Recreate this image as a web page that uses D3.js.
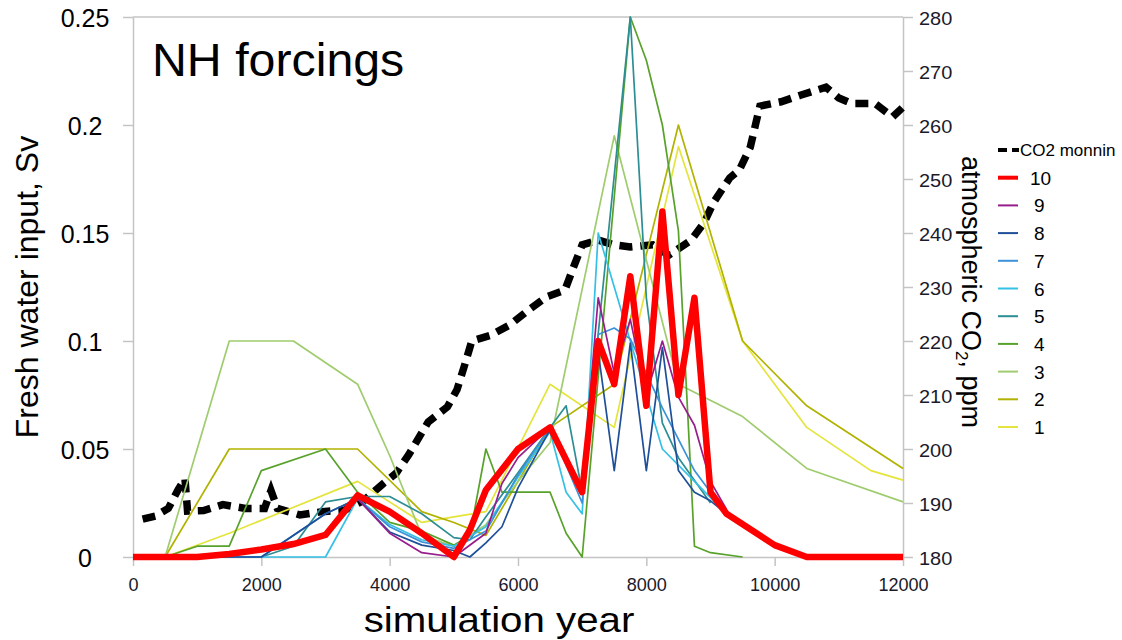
<!DOCTYPE html>
<html lang="en">
<head>
<meta charset="UTF-8">
<title>NH forcings</title>
<script src="https://d3js.org/d3.v7.min.js"></script>
<style>
    html, body {
        margin: 0;
        background: #fff;
    }
    svg text {
        font-family: "Liberation Sans", Arial, sans-serif;
    }
</style>
</head>
<body>
<div id="vis"></div>
<script>

    // ---- data ----
    var yearTicks = [0, 2000, 4000, 6000, 8000, 10000, 12000];
    var svTicks = [0, 0.05, 0.1, 0.15, 0.2, 0.25];
    var svTickLabels = ["0", "0.05", "0.1", "0.15", "0.2", "0.25"];
    var ppmTicks = [180, 190, 200, 210, 220, 230, 240, 250, 260, 270, 280];

    // CO2 (Monnin), right axis
    var co2Years  = [150, 350, 550, 700, 810, 850, 1100, 1400, 1750, 2050, 2150, 2250, 2600, 2950, 3300, 3600, 3900, 4100, 4300, 4600, 4900, 5050, 5170, 5280, 5560, 5875, 6160, 6450, 6730, 6860, 7000, 7250, 7500, 7750, 8100, 8350, 8700, 8900, 9050, 9300, 9450, 9620, 9700, 9770, 10100, 10400, 10800, 11000, 11200, 11560, 11840, 12000];
    var co2Values = [187, 187.6, 189, 192.4, 194.5, 188.5, 188.6, 189.7, 189, 189, 192.3, 189, 187.8, 188.4, 188.7, 190.5, 193.6, 195.5, 199, 205, 207.8, 211, 215.6, 220, 221, 223, 225.7, 228.2, 229.4, 233.5, 237.8, 238.7, 237.8, 237.4, 237.8, 235.9, 238.7, 241.9, 245.7, 250.2, 251.7, 255.9, 260, 263.5, 264.3, 265.5, 267, 265, 264, 264, 261.5, 263.3];

    // fresh water runs, [year, Sv]
    var run1 = [[0, 0], [500, 0], [1500, 0.011], [3500, 0.035], [4500, 0.016], [5000, 0.0186], [5500, 0.021], [6500, 0.08], [7500, 0.06], [8500, 0.19], [9500, 0.1], [10500, 0.06], [11500, 0.04], [12000, 0.0356]];
    var run2 = [[0, 0], [500, 0], [1500, 0.05], [3500, 0.05], [4500, 0.021], [5000, 0.016], [5500, 0.01], [6500, 0.06], [7500, 0.08], [8500, 0.2], [9500, 0.1], [10500, 0.07], [12000, 0.041]];
    var run3 = [[0, 0], [500, 0], [1500, 0.1], [2500, 0.1], [3500, 0.08], [4000, 0.047], [4500, 0.01], [5000, 0.005], [5500, 0.015], [6000, 0.035], [6500, 0.053], [7500, 0.195], [8500, 0.08], [9500, 0.065], [10500, 0.041], [12000, 0.0255]];
    var run4 = [[0, 0], [500, 0], [1000, 0.005], [1500, 0.005], [2000, 0.04], [3000, 0.05], [3500, 0.03], [4000, 0.016], [4500, 0.012], [5000, 0.0055], [5250, 0.01], [5500, 0.05], [5750, 0.03], [6500, 0.03], [6750, 0.011], [7000, 0], [7750, 0.25], [8000, 0.23], [8250, 0.2], [8500, 0.151], [8750, 0.005], [9000, 0.002], [9500, 0]];
    var run5 = [[0, 0], [500, 0], [2000, 0], [2500, 0.005], [3000, 0.0255], [3500, 0.028], [4000, 0.028], [4500, 0.02], [5000, 0.009], [5250, 0.008], [5500, 0.0186], [6000, 0.039], [6500, 0.06], [6750, 0.07], [7000, 0.03], [7750, 0.25], [8000, 0.12], [8250, 0.062], [8500, 0.046], [9000, 0.025]];
    var run6 = [[0, 0], [500, 0], [3000, 0], [3500, 0.027], [4000, 0.015], [4500, 0.008], [5000, 0.005], [5500, 0.014], [6000, 0.037], [6500, 0.058], [6750, 0.03], [7000, 0.02], [7250, 0.15], [7750, 0.1], [8250, 0.05], [8750, 0.035], [9250, 0.02]];
    var run7 = [[0, 0], [2000, 0], [3000, 0.02], [3500, 0.027], [4000, 0.014], [4500, 0.007], [5000, 0.004], [5500, 0.012], [6000, 0.038], [6500, 0.06], [7000, 0.025], [7250, 0.103], [7500, 0.106], [7750, 0.101], [8250, 0.069], [8750, 0.04], [9250, 0.02]];
    var run8 = [[0, 0], [2000, 0], [3000, 0.02], [3500, 0.027], [4000, 0.0116], [4500, 0.0055], [5000, 0.003], [5250, 0], [5500, 0.0065], [5750, 0.014], [6000, 0.032], [6500, 0.059], [7000, 0.03], [7250, 0.095], [7500, 0.04], [7750, 0.099], [8000, 0.04], [8250, 0.097], [8500, 0.04], [8750, 0.03], [9000, 0.026], [9250, 0.02]];
    var run9 = [[0, 0], [1000, 0], [1500, 0.0014], [2000, 0.0035], [2500, 0.006], [3000, 0.0102], [3500, 0.027], [4000, 0.011], [4500, 0.002], [5000, 0], [5500, 0.011], [5750, 0.034], [6000, 0.046], [6500, 0.06], [6750, 0.0435], [7000, 0.032], [7250, 0.12], [7500, 0.085], [7750, 0.11], [8000, 0.075], [8250, 0.1], [8500, 0.074], [8750, 0.061], [9000, 0.035], [9250, 0.022]];
    var run10 = [[0, 0], [1000, 0], [1500, 0.0014], [2000, 0.0035], [2500, 0.006], [3000, 0.0102], [3500, 0.0285], [4000, 0.021], [4500, 0.011], [5000, 0], [5250, 0.0125], [5500, 0.031], [6000, 0.05], [6500, 0.06], [7000, 0.03], [7250, 0.1], [7500, 0.08], [7750, 0.13], [8000, 0.07], [8250, 0.16], [8500, 0.075], [8750, 0.12], [9000, 0.03], [9250, 0.02], [10000, 0.0055], [10500, 0], [12000, 0]];

    var runNames = ["1", "2", "3", "4", "5", "6", "7", "8", "9", "10"];
    var runData = [run1, run2, run3, run4, run5, run6, run7, run8, run9, run10];
    var runColors = ["#e4e43c", "#b2b200", "#9fcc6e", "#58a22c", "#2b8e93", "#35c0e6", "#3b92d8", "#1f4f99", "#981d8c", "#ff0000"];

    /*
     *  layout
     */
    var W = 1122, H = 640;
    var plot = {left: 133, right: 903, top: 17, bottom: 557};
    var axisGrey = "#c4c4c4";

    var svg = d3.select("#vis").append("svg")
        .attr("width", W)
        .attr("height", H);

    var x = d3.scaleLinear().domain([0, 12000]).range([plot.left, plot.right]);
    var ySv = d3.scaleLinear().domain([0, 0.25]).range([plot.bottom, plot.top]);
    var yPpm = d3.scaleLinear().domain([180, 280]).range([plot.bottom, plot.top]);

    // top border line
    svg.append("line")
        .attr("x1", plot.left).attr("x2", plot.right)
        .attr("y1", ySv(0.25)).attr("y2", ySv(0.25))
        .attr("stroke", axisGrey).attr("stroke-width", 1.5);

    // left axis
    var gLeft = svg.append("g")
        .attr("transform", "translate(" + plot.left + ",0)")
        .call(d3.axisLeft(ySv).tickValues(svTicks).tickSize(10).tickSizeOuter(0)
            .tickFormat(function(d, i) { return svTickLabels[i]; }));
    gLeft.selectAll("path, line").attr("stroke", axisGrey).attr("stroke-width", 1.5);
    gLeft.selectAll("text")
        .attr("x", null).attr("dy", null)
        .attr("transform", "translate(-48,9)")
        .attr("text-anchor", "middle")
        .attr("fill", "#000")
        .style("font-size", "25px");

    // right axis
    var gRight = svg.append("g")
        .attr("transform", "translate(" + plot.right + ",0)")
        .call(d3.axisRight(yPpm).tickValues(ppmTicks).tickSize(10).tickSizeOuter(0));
    gRight.selectAll("path, line").attr("stroke", axisGrey).attr("stroke-width", 1.5);
    gRight.selectAll("text")
        .attr("x", null).attr("dy", null)
        .attr("transform", "translate(16,7) scale(1.05,1)")
        .attr("text-anchor", "start")
        .attr("fill", "#1a1a2a")
        .style("font-size", "19px");

    // bottom axis
    var gBottom = svg.append("g")
        .attr("transform", "translate(0," + plot.bottom + ")")
        .call(d3.axisBottom(x).tickValues(yearTicks).tickSize(9).tickSizeOuter(0)
            .tickFormat(d3.format("d")));
    gBottom.selectAll("path, line").attr("stroke", axisGrey).attr("stroke-width", 1.5);
    gBottom.selectAll("text")
        .attr("y", null).attr("dy", null)
        .attr("transform", "translate(0,34) scale(0.95,1)")
        .attr("fill", "#1a1a2a")
        .style("font-size", "19px");

    // CO2 curve (drawn under the runs)
    var co2Line = d3.line()
        .x(function(d, i) { return x(co2Years[i]); })
        .y(function(d) { return yPpm(d); });

    svg.append("path")
        .datum(co2Values)
        .attr("d", co2Line)
        .attr("fill", "none")
        .attr("stroke", "#000")
        .attr("stroke-width", 7.5)
        .attr("stroke-dasharray", "13,8");

    // fresh water runs
    var svLine = d3.line()
        .x(function(d) { return x(d[0]); })
        .y(function(d) { return ySv(d[1]); });

    svg.selectAll(".run")
        .data(runData)
        .enter()
        .append("path")
        .attr("class", "run")
        .attr("d", svLine)
        .attr("fill", "none")
        .attr("stroke", function(d, i) { return runColors[i]; })
        .attr("stroke-width", function(d, i) { return runNames[i] == "10" ? 6.5 : 1.7; })
        .attr("stroke-linejoin", "round");

    // titles
    svg.append("text")
        .attr("transform", "translate(152,76) scale(1.05,1)")
        .style("font-size", "46px")
        .text("NH forcings");

    svg.append("text")
        .attr("transform", "translate(499,632) scale(1.15,1)")
        .attr("text-anchor", "middle")
        .style("font-size", "35px")
        .text("simulation year");

    svg.append("text")
        .attr("transform", "translate(38,287) rotate(-90)")
        .attr("text-anchor", "middle")
        .style("font-size", "32px")
        .text("Fresh water input, Sv");

    var rTitle = svg.append("text")
        .attr("transform", "translate(962,292) rotate(90)")
        .attr("text-anchor", "middle")
        .style("font-size", "27px");
    rTitle.append("tspan").text("atmospheric CO");
    rTitle.append("tspan").attr("dy", 6).style("font-size", "17px").text("2");
    rTitle.append("tspan").attr("dy", -6).text(", ppm");

    // legend
    var legendTop = 150, legendStep = 27.7;
    var legend = svg.append("g");

    legend.append("line")
        .attr("x1", 998).attr("x2", 1019)
        .attr("y1", legendTop).attr("y2", legendTop)
        .attr("stroke", "#000").attr("stroke-width", 4)
        .attr("stroke-dasharray", "9,5");
    legend.append("text")
        .attr("x", 1020)
        .attr("y", legendTop + 6)
        .style("font-size", "17px")
        .text("CO2 monnin");

    var order = d3.range(runNames.length).reverse();
    order.forEach(function(k, j) {
        var ly = legendTop + legendStep * (j + 1);
        legend.append("line")
            .attr("x1", 998).attr("x2", 1018)
            .attr("y1", ly).attr("y2", ly)
            .attr("stroke", runColors[k])
            .attr("stroke-width", runNames[k] == "10" ? 4 : 2);
        legend.append("text")
            .attr("x", runNames[k].length > 1 ? 1030 : 1034)
            .attr("y", ly + 7)
            .style("font-size", "19px")
            .text(runNames[k]);
    });

</script>
</body>
</html>
